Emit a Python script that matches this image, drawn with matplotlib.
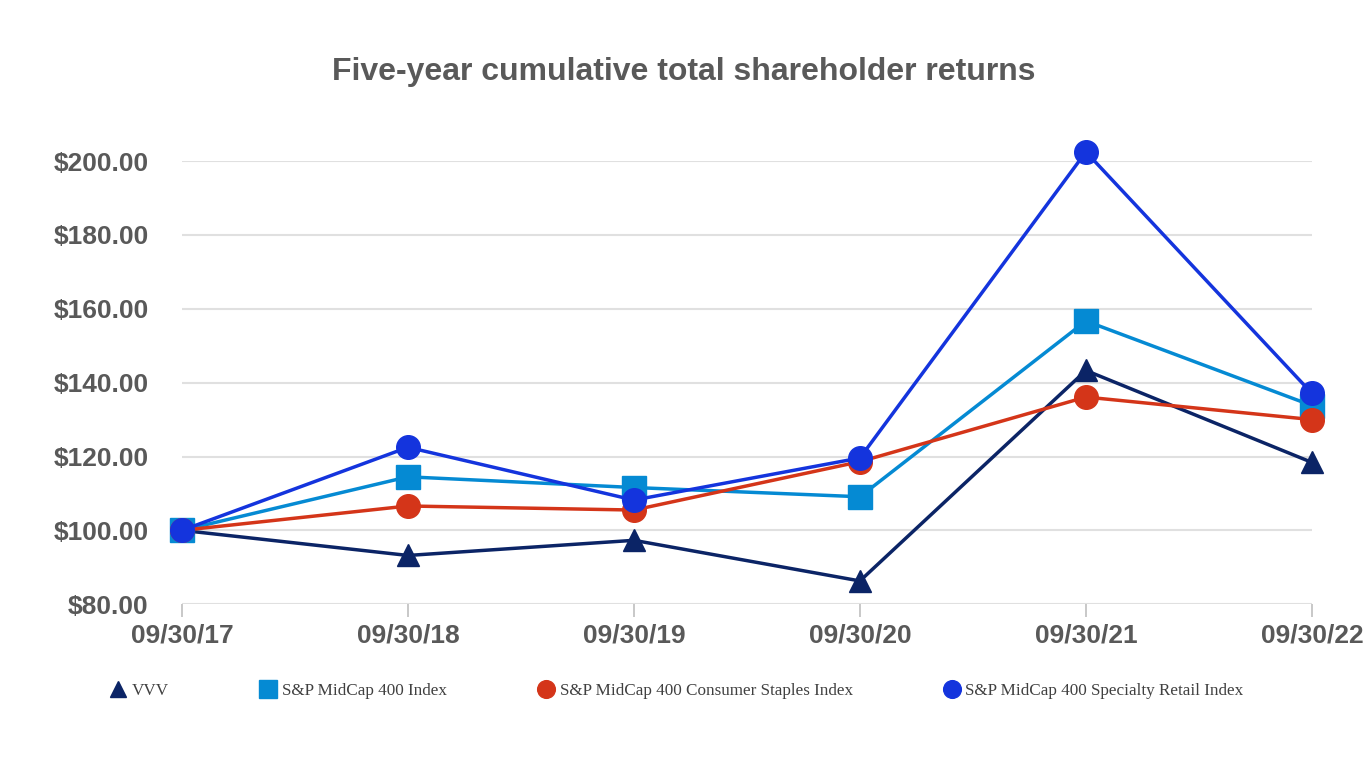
import matplotlib
matplotlib.use("Agg")
import matplotlib.pyplot as plt
from matplotlib.ticker import FuncFormatter

dates = ["09/30/17", "09/30/18", "09/30/19", "09/30/20", "09/30/21", "09/30/22"]
vvv = [100.0, 93.2, 97.3, 86.3, 143.3, 118.4]
midcap = [100.0, 114.5, 111.6, 109.1, 156.7, 133.8]
staples = [100.0, 106.6, 105.5, 118.6, 136.1, 130.0]
specialty = [100.0, 122.5, 108.2, 119.6, 202.5, 137.1]

series = [
    ("VVV", vvv, "#0b2466", "^"),
    ("S&P MidCap 400 Index", midcap, "#058ad3", "s"),
    ("S&P MidCap 400 Consumer Staples Index", staples, "#d43519", "o"),
    ("S&P MidCap 400 Specialty Retail Index", specialty, "#1434dd", "o"),
]

fig = plt.figure(figsize=(13.68, 7.6), dpi=100)
ax = fig.add_axes([0.133, 0.205, 0.826, 0.583])

x = list(range(len(dates)))
for name, vals, col, mk in series:
    ax.plot(x, vals, color=col, lw=2.5, marker=mk, ms=17 if mk != "^" else 16,
            label=name, clip_on=False)

ax.set_xlim(0, 5)
ax.set_ylim(80, 200)
ax.set_yticks([80, 100, 120, 140, 160, 180, 200])
ax.yaxis.set_major_formatter(FuncFormatter(lambda v, p: "${:.2f}".format(v)))
ax.set_xticks(x)
ax.set_xticklabels(dates)
ax.grid(axis="y", color="#e0e0e0", lw=1.5, zorder=0)
ax.set_axisbelow(True)
for s in ax.spines.values():
    s.set_visible(False)
ax.tick_params(axis="y", length=0, pad=24, labelsize=19, labelcolor="#595959")
ax.tick_params(axis="x", length=9, width=1.2, color="#bfbfbf", pad=5, labelsize=19, labelcolor="#595959")
for lab in ax.get_xticklabels() + ax.get_yticklabels():
    lab.set_fontweight("bold")
    lab.set_family("Liberation Sans")

fig.text(0.5, 0.905, "Five-year cumulative total shareholder returns", ha="center", va="center",
         fontsize=23, fontweight="bold", color="#595959", family="Liberation Sans")

leg = fig.legend(loc="center left", bbox_to_anchor=(0.069, 0.091), ncol=4, frameon=False,
                 handlelength=1.0, handletextpad=0.3, columnspacing=5.3, markerscale=0.75,
                 prop={"family": "Liberation Serif", "size": 12.3})
for h in leg.get_lines():
    h.set_linestyle("none")
for t in leg.get_texts():
    t.set_color("#404040")

fig.savefig("out.png", dpi=100)
